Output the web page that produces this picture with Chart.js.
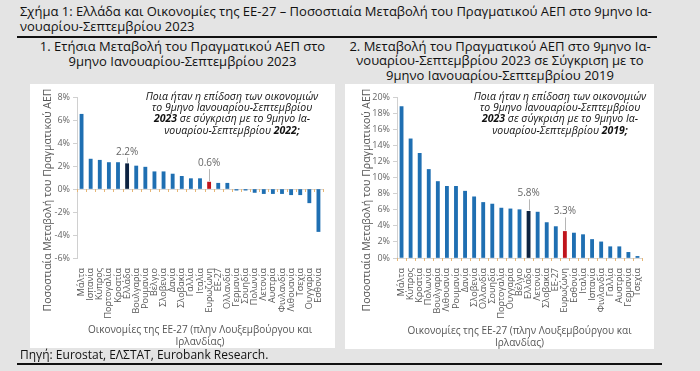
<!DOCTYPE html>
<html>
<head>
<meta charset="utf-8">
<script src="https://cdn.jsdelivr.net/npm/chart.js@4.4.0/dist/chart.umd.min.js"></script>
<style>
  body { margin: 0; width: 700px; height: 371px; background: #e4e4e4; font-family: 'Open Sans', sans-serif; position: relative; overflow: hidden; }
  .txt { position: absolute; color: #111; white-space: nowrap; z-index: 2; }
  .rule { position: absolute; background: #111; height: 1.5px; }
  .panel { position: absolute; background: #fff; z-index: 1; }
</style>
</head>
<body>

<div class="txt" style="left:20px; top:4px; font-size:13px; line-height:15px;">Σχήμα 1: Ελλάδα και Οικονομίες της ΕΕ-27 – Ποσοστιαία Μεταβολή του Πραγματικού ΑΕΠ στο 9μηνο Ια-<br>νουαρίου-Σεπτεμβρίου 2023</div>
<div class="rule" style="left:17px; top:36px; width:640px;"></div>

<div class="txt" style="left:30px; top:39px; width:305px; text-align:center; font-size:13px; line-height:14.5px;">1. Ετήσια Μεταβολή του Πραγματικού ΑΕΠ στο<br>9μηνο Ιανουαρίου-Σεπτεμβρίου 2023</div>
<div class="txt" style="left:345px; top:38.5px; width:310px; text-align:center; font-size:13px; line-height:14.5px;">2. Μεταβολή του Πραγματικού ΑΕΠ στο 9μηνο Ια-<br>νουαρίου-Σεπτεμβρίου 2023 σε Σύγκριση με το<br>9μηνο Ιανουαρίου-Σεπτεμβρίου 2019</div>

<div class="panel" style="left:30px; top:84px; width:305px; height:264px;"><canvas id="chart1"></canvas></div>
<div class="panel" style="left:345px; top:84px; width:309px; height:265px;"><canvas id="chart2"></canvas></div>

<div class="txt" style="left:20px; top:348px; font-size:12px; line-height:14px;">Πηγή: Eurostat, ΕΛΣΤΑΤ, Eurobank Research.</div>
<div class="rule" style="left:17px; top:363px; width:645px;"></div>

<script>
// chart 1: annual change, 9m 2023 vs 9m 2022
const labels1 = ['Μάλτα', 'Ισπανία', 'Κύπρος', 'Πορτογαλία', 'Κροατία', 'Ελλάδα', 'Βουλγαρία', 'Ρουμανία', 'Βέλγιο',
  'Σλοβενία', 'Δανία', 'Σλοβακία', 'Γαλλία', 'Ιταλία', 'Ευρωζώνη', 'ΕΕ-27', 'Ολλανδία', 'Γερμανία', 'Σουηδία',
  'Πολωνία', 'Λετονία', 'Αυστρία', 'Φινλανδία', 'Λιθουανία', 'Τσεχία', 'Ουγγαρία', 'Εσθονία'];
const values1 = [6.5, 2.6, 2.5, 2.3, 2.3, 2.2, 2.0, 1.9, 1.5, 1.5, 1.3, 1.1, 0.9, 0.9, 0.6, 0.5, 0.5, -0.1, -0.1,
  -0.3, -0.4, -0.4, -0.4, -0.5, -0.5, -1.2, -3.7];
const yMin1 = -6, yMax1 = 8;

// chart 2: change 9m 2023 vs 9m 2019
const labels2 = ['Μάλτα', 'Κύπρος', 'Κροατία', 'Πολωνία', 'Βουλγαρία', 'Λιθουανία', 'Ρουμανία', 'Δανία', 'Σλοβενία',
  'Ολλανδία', 'Σουηδία', 'Πορτογαλία', 'Ουγγαρία', 'Βέλγιο', 'Ελλάδα', 'Λετονία', 'Σλοβακία', 'ΕΕ-27', 'Ευρωζώνη',
  'Εσθονία', 'Ιταλία', 'Ισπανία', 'Φινλανδία', 'Γαλλία', 'Αυστρία', 'Γερμανία', 'Τσεχία'];
const values2 = [18.8, 14.8, 13.0, 11.0, 9.5, 8.9, 8.9, 8.3, 7.6, 6.9, 6.7, 6.2, 6.1, 6.0, 5.8, 5.7, 4.4, 3.9, 3.3,
  3.1, 2.9, 2.3, 2.0, 1.4, 1.4, 0.7, 0.2];
const yMin2 = 0, yMax2 = 20;

const FONT = "'Open Sans', sans-serif";
const BLUE = '#1f6fb2', NAVY = '#0d2341', RED = '#c0141c';

function barColor(label) {
  if (label === 'Ελλάδα') return NAVY;
  if (label === 'Ευρωζώνη') return RED;
  return BLUE;
}

// draws y title, little ticks on the zero line, value callouts and the question box
const extras = {
  id: 'extras',
  beforeDatasetsDraw(chart, args, opts) {
    const ctx = chart.ctx, area = chart.chartArea;
    const y0 = chart.scales.y.getPixelForValue(0);
    const n = chart.data.labels.length, w = (area.right - area.left) / n;
    ctx.save();
    ctx.strokeStyle = '#e6b676';
    ctx.lineWidth = 1;
    for (let i = 0; i <= n; i++) {
      const x = Math.round(area.left + i * w) + 0.5;
      ctx.beginPath(); ctx.moveTo(x, y0); ctx.lineTo(x, y0 + 3); ctx.stroke();
    }
    ctx.restore();
  },
  afterDraw(chart, args, opts) {
    const ctx = chart.ctx;
    ctx.save();
    // y title
    ctx.translate(opts.yTitleX, opts.yTitleY);
    ctx.rotate(-Math.PI / 2);
    ctx.fillStyle = '#555';
    ctx.font = '10.5px ' + FONT;
    ctx.textAlign = 'center';
    ctx.textBaseline = 'middle';
    ctx.fillText('Ποσοστιαία Μεταβολή του Πραγματικού ΑΕΠ', 0, 0);
    ctx.restore();

    // callouts
    const meta = chart.getDatasetMeta(0);
    const data = chart.data.datasets[0].data;
    ctx.save();
    ctx.font = '10px ' + FONT;
    ctx.textAlign = 'center';
    ctx.textBaseline = 'middle';
    opts.callouts.forEach(c => {
      const i = chart.data.labels.indexOf(c.label);
      const bar = meta.data[i];
      const ty = bar.y - c.offset;
      ctx.fillStyle = '#666';
      ctx.fillText(data[i].toFixed(1) + '%', bar.x, ty);
      ctx.strokeStyle = '#b5b5b5';
      ctx.lineWidth = 1;
      ctx.beginPath();
      ctx.moveTo(Math.round(bar.x) + 0.5, ty + 6);
      ctx.lineTo(Math.round(bar.x) + 0.5, bar.y - 1);
      ctx.stroke();
    });
    ctx.restore();

    // question text, italic with bold parts
    ctx.save();
    ctx.fillStyle = '#111';
    ctx.textBaseline = 'middle';
    ctx.textAlign = 'left';
    opts.note.forEach((line, li) => {
      const parts = line.map(p => ({ t: p[0], f: (p[1] ? 'italic bold ' : 'italic ') + '10.5px ' + FONT }));
      let total = 0;
      parts.forEach(p => { ctx.font = p.f; p.w = ctx.measureText(p.t).width; total += p.w; });
      let x = opts.noteX - total / 2;
      parts.forEach(p => { ctx.font = p.f; ctx.fillText(p.t, x, opts.noteY + li * opts.noteGap); x += p.w; });
    });
    ctx.restore();
  }
};

function makeChart(id, labels, values, yMin, yMax, yWidth, xHeight, extraOpts) {
  return new Chart(document.getElementById(id), {
    type: 'bar',
    data: {
      labels: labels,
      datasets: [{
        data: values,
        backgroundColor: labels.map(barColor),
        barThickness: 3.2,
        borderWidth: 0
      }]
    },
    options: {
      responsive: true,
      maintainAspectRatio: false,
      animation: false,
      layout: { padding: { top: 13, right: 12, left: 0, bottom: 0 } },
      plugins: { legend: { display: false }, tooltip: { enabled: false }, extras: extraOpts },
      scales: {
        x: {
          grid: { display: false },
          border: { display: false },
          ticks: { autoSkip: false, minRotation: 90, maxRotation: 90, padding: 2, color: '#555', font: { family: FONT, size: 9 } },
          title: {
            display: true,
            text: ['Οικονομίες της ΕΕ-27 (πλην Λουξεμβούργου και', 'Ιρλανδίας)'],
            color: '#555',
            font: { family: FONT, size: 10 },
            padding: { top: 0, bottom: 0 }
          },
          afterFit(scale) { scale.height = xHeight; }
        },
        y: {
          min: yMin, max: yMax,
          ticks: { stepSize: 2, padding: 3, color: '#666', font: { family: FONT, size: 9 }, callback: v => v + '%' },
          grid: {
            drawOnChartArea: true,
            color: ctx => ctx.tick && ctx.tick.value === 0 ? '#d6d6d6' : 'rgba(0,0,0,0)',
            tickColor: '#d0d0d0',
            tickLength: 4
          },
          border: { color: '#d0d0d0' },
          afterFit(scale) { scale.width = yWidth; }
        }
      }
    },
    plugins: [extras]
  });
}

makeChart('chart1', labels1, values1, yMin1, yMax1, 47, 90, {
  yTitleX: 18, yTitleY: 116,
  callouts: [{ label: 'Ελλάδα', offset: 12 }, { label: 'Ευρωζώνη', offset: 19 }],
  noteX: 202, noteY: 13, noteGap: 11.2,
  note: [
    [['Ποια ήταν η επίδοση των οικονομιών']],
    [['το 9μηνο Ιανουαρίου-Σεπτεμβρίου']],
    [['2023', true], [' σε σύγκριση με το 9μηνο Ια-']],
    [['νουαρίου-Σεπτεμβρίου '], ['2022;', true]]
  ]
});

makeChart('chart2', labels2, values2, yMin2, yMax2, 52, 91, {
  yTitleX: 22, yTitleY: 116,
  callouts: [{ label: 'Ελλάδα', offset: 18 }, { label: 'Ευρωζώνη', offset: 20 }],
  noteX: 215, noteY: 13, noteGap: 11.2,
  note: [
    [['Ποια ήταν η επίδοση των οικονομιών']],
    [['το 9μηνο Ιανουαρίου-Σεπτεμβρίου']],
    [['2023', true], [' σε σύγκριση με το 9μηνο Ια-']],
    [['νουαρίου-Σεπτεμβρίου '], ['2019;', true]]
  ]
});
</script>
</body>
</html>
